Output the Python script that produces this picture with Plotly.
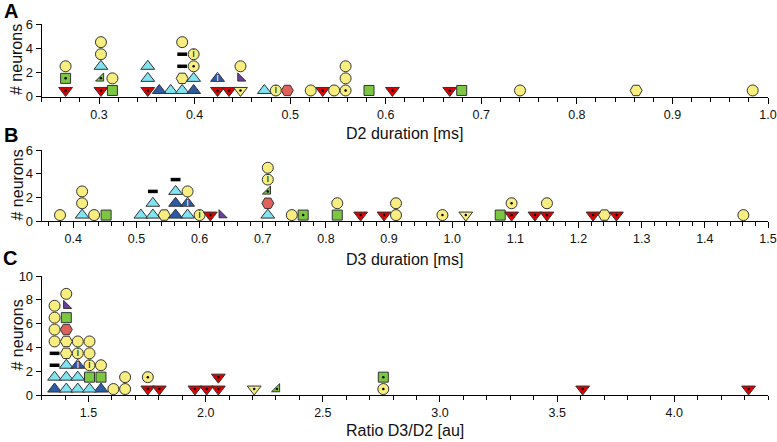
import plotly.graph_objects as go

# ---------------- data: column x value and neuron types stacked bottom->top
# codes: Y yellow circle, Yd circle+dot, Yi circle+i, H yellow hexagon, Hr red hexagon,
# C cyan triangle, B dark-blue triangle, Bi dark-blue triangle+i, R red down-triangle,
# V yellow down-triangle, G green square, Gd green square+dot, T green right triangle,
# P purple right triangle, - black bar
A_X = [0.265, 0.302, 0.314, 0.351, 0.363, 0.375, 0.387, 0.399, 0.424, 0.436, 0.448,
       0.473, 0.485, 0.497, 0.5215, 0.534, 0.546, 0.558, 0.5825, 0.607, 0.667, 0.6795,
       0.7405, 0.862, 0.984]
A_STACKS = [["R", "Gd", "Y"], ["R", "T", "C", "Y", "Y"], ["G", "Y"], ["R", "C", "C"], ["B"],
            ["C"], ["C", "H", "-", "-", "Y"], ["B", "C", "Yd", "Yi"], ["R", "Bi"], ["R"],
            ["V", "P", "Y"], ["C"], ["Yi"], ["Hr"], ["Y"], ["R"], ["Y"], ["Yd", "Y", "Y"],
            ["G"], ["R"], ["R"], ["G"], ["Y"], ["H"], ["Y"]]

B_X = [0.379, 0.414, 0.433, 0.452, 0.507, 0.526, 0.544, 0.562, 0.581, 0.600, 0.617, 0.635,
       0.708, 0.746, 0.764, 0.818, 0.855, 0.892, 0.911, 0.9845, 1.0215, 1.076, 1.094,
       1.131, 1.150, 1.223, 1.241, 1.260, 1.461]
B_STACKS = [["Y"], ["C", "Y", "Y"], ["Y"], ["G"], ["C"], ["C", "C", "-"], ["H"],
            ["B", "B", "C", "-"], ["C", "Bi", "Y"], ["Yi"], ["R"], ["P"],
            ["C", "Hr", "T", "Yi", "Y"], ["Y"], ["Gd"], ["G", "Y"], ["R"], ["R"], ["Y", "Y"],
            ["Yd"], ["V"], ["G"], ["R", "Yd"], ["R"], ["R", "Y"], ["R"], ["H"], ["R"], ["Y"]]

C_X = [1.355, 1.405, 1.454, 1.504, 1.553, 1.606, 1.656, 1.753, 1.802, 1.954, 2.004, 2.054,
       2.207, 2.304, 2.758, 3.609, 4.317]
C_STACKS = [["B", "C", "-", "-", "Y", "Y", "Y", "Y"],
            ["C", "C", "C", "H", "H", "Hr", "G", "P", "Y"],
            ["C", "C", "Bi", "Yi", "Y"], ["C", "G", "Yi", "Y", "Y"], ["B", "G", "Y"],
            ["Y"], ["Y", "Y"], ["R", "Yd"], ["R"], ["R"], ["R"], ["R", "R"], ["V"], ["T"],
            ["Yd", "Gd"], ["R"], ["R"]]

A_TICKS = [0.3, 0.4, 0.5, 0.6, 0.7, 0.8, 0.9, 1.0]
B_TICKS = [0.4, 0.5, 0.6, 0.7, 0.8, 0.9, 1.0, 1.1, 1.2, 1.3, 1.4, 1.5]
C_TICKS = [1.5, 2.0, 2.5, 3.0, 3.5, 4.0]
Y_TICKS_AB = [0, 2, 4, 6]
Y_TICKS_C = [0, 2, 4, 6, 8, 10]

ARROW_X = 1.7

X_TITLES = ["D2 duration [ms]", "D3 duration [ms]", "Ratio D3/D2 [au]"]
Y_TITLE = "# neurons"
PANEL_LETTERS = ["A", "B", "C"]

# ---------------- styles
YEL = "#F8EE80"
CYAN = "#80E4F0"
DBLUE = "#2D5AA6"
RED = "#DD0000"
GREEN = "#7CC742"
HEXRED = "#E0615C"
PURPLE = "#6E3E9E"
OUT = "#333333"

STYLE = {
    "Y": dict(symbol="circle", color=YEL, size=11),
    "Yd": dict(symbol="circle", color=YEL, size=11),
    "Yi": dict(symbol="circle", color=YEL, size=11),
    "H": dict(symbol="hexagon2", color=YEL, size=12),
    "Hr": dict(symbol="hexagon2", color=HEXRED, size=12),
    "C": dict(symbol="triangle-up", color=CYAN, size=12),
    "B": dict(symbol="triangle-up", color=DBLUE, size=12),
    "Bi": dict(symbol="triangle-up", color=DBLUE, size=12),
    "R": dict(symbol="triangle-down", color=RED, size=12),
    "V": dict(symbol="triangle-down", color=YEL, size=12),
    "G": dict(symbol="square", color=GREEN, size=10),
    "Gd": dict(symbol="square", color=GREEN, size=10),
    "T": dict(symbol="triangle-se", color=GREEN, size=9),
    "P": dict(symbol="triangle-sw", color=PURPLE, size=9),
}
DOT_CODES = {"Yd", "R", "V", "Gd", "T"}
I_CODES = {"Yi": "black", "Bi": "white"}

FONT = "Liberation Sans, Arial, sans-serif"

fig = go.Figure()

panels = [(A_X, A_STACKS, "x", "y"), (B_X, B_STACKS, "x2", "y2"), (C_X, C_STACKS, "x3", "y3")]
for xs, stacks, xa, ya in panels:
    groups = {}
    for xv, st in zip(xs, stacks):
        for k, code in enumerate(st):
            groups.setdefault(code, ([], []))
            groups[code][0].append(xv)
            groups[code][1].append(k + 0.5)
    for code, (gx, gy) in groups.items():
        if code == "-":
            fig.add_trace(go.Scatter(x=gx, y=gy, mode="markers", xaxis=xa, yaxis=ya,
                                     cliponaxis=False, showlegend=False, hoverinfo="skip",
                                     marker=dict(symbol="line-ew", size=7,
                                                 line=dict(color="black", width=3.5))))
            continue
        s = STYLE[code]
        fig.add_trace(go.Scatter(x=gx, y=gy, mode="markers", xaxis=xa, yaxis=ya,
                                 cliponaxis=False, showlegend=False, hoverinfo="skip",
                                 marker=dict(symbol=s["symbol"], size=s["size"], color=s["color"],
                                             line=dict(color=OUT, width=1))))
        if code in DOT_CODES:
            fig.add_trace(go.Scatter(x=gx, y=gy, mode="markers", xaxis=xa, yaxis=ya,
                                     cliponaxis=False, showlegend=False, hoverinfo="skip",
                                     marker=dict(symbol="circle", size=2.5, color="black")))
        if code in I_CODES:
            fig.add_trace(go.Scatter(x=gx, y=gy, mode="text", text=["i"] * len(gx),
                                     xaxis=xa, yaxis=ya, cliponaxis=False, showlegend=False,
                                     hoverinfo="skip", textposition="middle center",
                                     textfont=dict(family=FONT, size=10, color=I_CODES[code])))

W, H = 777, 442
xdom = [41.7 / W, 768 / W]
ydoms = [[1 - 96.5 / H, 1 - 24 / H], [1 - 221 / H, 1 - 150 / H], [1 - 395 / H, 1 - 276 / H]]
xranges = [[0.24, 1.0], [0.35, 1.5], [1.3, 4.4]]
xticks = [A_TICKS, B_TICKS, C_TICKS]
xminor = [0.02, 0.02, 0.1]
yranges = [[0, 6], [0, 6], [0, 10]]
yticks = [Y_TICKS_AB, Y_TICKS_AB, Y_TICKS_C]

axis_common = dict(showline=True, linecolor="black", linewidth=1, ticks="outside",
                   tickcolor="black", tickwidth=1, showgrid=False, zeroline=False,
                   ticklabeloverflow="allow", tickmode="array", automargin=False,
                   tickfont=dict(family=FONT, size=12.5, color="#111"))
layout = dict(width=W, height=H, margin=dict(l=0, r=0, t=0, b=0),
              paper_bgcolor="white", plot_bgcolor="white", showlegend=False)
for i in range(3):
    sx = "" if i == 0 else str(i + 1)
    layout["xaxis" + sx] = dict(axis_common, domain=xdom, range=xranges[i],
                                tickvals=xticks[i], ticktext=["%.1f" % v for v in xticks[i]],
                                ticklen=6, anchor="y" + sx,
                                minor=dict(tickmode="linear", dtick=xminor[i], tick0=0,
                                           ticks="outside", ticklen=4,
                                           tickcolor="black", tickwidth=1, showgrid=False))
    layout["yaxis" + sx] = dict(axis_common, domain=ydoms[i], range=yranges[i],
                                tickvals=yticks[i], ticktext=[str(v) for v in yticks[i]],
                                tickfont=dict(family=FONT, size=13, color="#111"),
                                ticklen=5, anchor="x" + sx)
fig.update_layout(**layout)

ann = []
letter_pos = [(11, 11), (11, 135), (10, 258)]
ytitle_y = [60, 185.5, 335.5]
xtitle_y = [133, 259, 430]
for i in range(3):
    lx, ly = letter_pos[i]
    ann.append(dict(text="<b>%s</b>" % PANEL_LETTERS[i], x=lx / W, y=1 - ly / H, xref="paper",
                    yref="paper", showarrow=False, xanchor="center", yanchor="middle",
                    font=dict(family=FONT, size=20, color="black")))
    ann.append(dict(text=Y_TITLE, x=17 / W, y=1 - ytitle_y[i] / H, xref="paper", yref="paper",
                    showarrow=False, textangle=-90, xanchor="center", yanchor="middle",
                    font=dict(family=FONT, size=16, color="#111")))
    ann.append(dict(text=X_TITLES[i], x=405 / W, y=1 - xtitle_y[i] / H, xref="paper",
                    yref="paper", showarrow=False, xanchor="center", yanchor="middle",
                    font=dict(family=FONT, size=16, color="#111")))
ann.append(dict(x=ARROW_X, y=-1.0, xref="x3", yref="y3", ax=0, ay=23, showarrow=True,
                arrowhead=2, arrowwidth=3, arrowsize=0.8, arrowcolor="black", text=""))
fig.update_layout(annotations=ann)

fig.write_html("out.html", config={"displayModeBar": False},
               post_script="document.body.style.margin='0';document.body.style.overflow='hidden';")
